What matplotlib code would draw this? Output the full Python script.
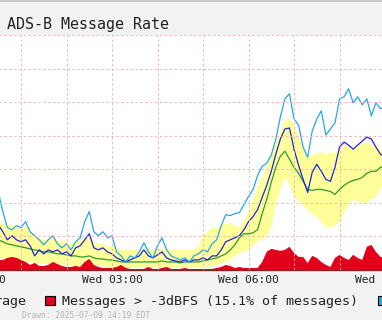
import numpy as np
import matplotlib
matplotlib.use('Agg')
import matplotlib.pyplot as plt
from matplotlib.patches import Rectangle

# sample times, minutes after Wed 00:00 (6 minute steps)
TIMES = np.arange(30, 541, 6)

# msgs/s
MAX_RATE = [234, 174, 126, 120, 132, 126, 144, 114, 102, 90,
            75, 90, 102, 78, 66, 78, 60, 84, 96, 144,
            174, 114, 102, 114, 96, 102, 54, 42, 24, 42,
            36, 54, 81, 54, 36, 72, 96, 60, 42, 36,
            30, 36, 24, 42, 48, 60, 54, 78, 90, 132,
            165, 162, 168, 171, 195, 219, 240, 282, 309, 318,
            342, 390, 456, 510, 525, 450, 432, 366, 336, 414,
            450, 474, 402, 420, 438, 510, 516, 540, 498, 516,
            492, 510, 459, 498, 480, 486]

RATE = [135, 114, 90, 102, 90, 84, 90, 72, 42, 60,
        48, 60, 54, 60, 48, 54, 42, 66, 72, 90,
        108, 66, 60, 66, 54, 48, 36, 30, 24, 30,
        36, 42, 60, 42, 36, 45, 54, 36, 30, 27,
        24, 30, 24, 30, 30, 36, 30, 42, 42, 60,
        84, 90, 96, 102, 120, 144, 159, 180, 216, 252,
        294, 345, 390, 420, 423, 360, 312, 270, 231, 291,
        315, 294, 270, 264, 306, 366, 381, 372, 360, 372,
        384, 396, 390, 366, 345, 336]

AVERAGE = [90, 84, 78, 75, 72, 69, 66, 63, 60, 57,
           54, 54, 51, 48, 48, 45, 42, 42, 39, 39,
           42, 36, 33, 33, 30, 30, 27, 24, 24, 24,
           24, 24, 24, 24, 24, 24, 27, 24, 24, 24,
           21, 24, 24, 24, 24, 27, 30, 33, 36, 42,
           48, 60, 75, 96, 108, 108, 111, 120, 168, 210,
           261, 306, 339, 354, 330, 306, 288, 264, 240, 237,
           240, 240, 237, 234, 225, 240, 252, 261, 267, 270,
           276, 288, 294, 294, 306, 309]

RANGE_HI = [144, 138, 132, 135, 126, 120, 132, 114, 102, 96,
            90, 90, 96, 90, 84, 84, 78, 84, 90, 96,
            96, 84, 78, 78, 72, 72, 66, 60, 60, 60,
            60, 60, 60, 60, 60, 60, 60, 60, 60, 60,
            60, 60, 60, 60, 72, 102, 114, 126, 126, 135,
            138, 138, 132, 126, 144, 174, 210, 246, 276, 306,
            345, 381, 414, 444, 450, 435, 396, 366, 342, 342,
            348, 351, 345, 348, 351, 360, 369, 372, 360, 366,
            378, 381, 372, 369, 360, 360]

RANGE_LO = [36, 36, 36, 30, 30, 24, 24, 24, 21, 18,
            18, 18, 18, 15, 15, 15, 12, 12, 12, 12,
            12, 12, 12, 12, 9, 9, 6, 6, 6, 6,
            6, 6, 6, 6, 6, 6, 6, 6, 6, 6,
            6, 6, 6, 6, 6, 6, 9, 12, 15, 18,
            24, 30, 42, 51, 54, 60, 72, 84, 90, 102,
            126, 195, 240, 276, 255, 219, 204, 192, 180, 168,
            156, 144, 126, 126, 132, 144, 174, 192, 210, 204,
            198, 201, 210, 216, 246, 252]

LOUD = [30, 30, 36, 39, 36, 30, 24, 15, 21, 12,
        12, 15, 24, 18, 12, 9, 9, 12, 9, 24,
        33, 15, 9, 6, 6, 6, 9, 15, 6, 3,
        3, 3, 3, 9, 3, 3, 6, 9, 3, 3,
        3, 6, 3, 3, 3, 3, 3, 3, 6, 9,
        15, 12, 6, 9, 6, 6, 6, 6, 24, 54,
        63, 60, 57, 60, 69, 51, 39, 39, 21, 42,
        36, 24, 15, 9, 36, 45, 36, 30, 45, 36,
        30, 69, 75, 54, 39, 36]

TICK_HOURS = [0, 3, 6, 9]
TICK_LABELS = ['Wed 00:00', 'Wed 03:00', 'Wed 06:00', 'Wed 09:00']

hours = TIMES / 60.0

W, H = 382, 320
fig = plt.figure(figsize=(W / 100, H / 100), dpi=100, facecolor='#f2f2f2')

# plot area runs past both edges of the picture (it was cropped)
ax = fig.add_axes([-30 / W, 50 / H, 442 / W, 235 / H])
ax.set_facecolor('white')

ax.fill_between(hours, RANGE_LO, RANGE_HI, color='#ffff99', lw=0, zorder=1)
ax.fill_between(hours, 0, LOUD, color='#e3001b', lw=0, zorder=1.2)
ax.plot(hours, AVERAGE, color='#2e9a2e', lw=0.9, zorder=2)
ax.plot(hours, RATE, color='#2222dd', lw=0.9, zorder=2)
ax.plot(hours, MAX_RATE, color='#27a6ee', lw=0.9, zorder=2)

ax.set_xlim(-0.1209, 9.593)
ax.set_ylim(0, 700)
ax.set_xticks(TICK_HOURS)
ax.set_xticklabels(TICK_LABELS, fontfamily='DejaVu Sans Mono', fontsize=8.1, color='#222222')
ax.set_xticks(np.arange(0, 10), minor=True)
ax.set_yticks(np.arange(0, 701, 100))
ax.set_yticklabels([])
ax.tick_params(axis='both', which='both', length=0, pad=3.3)

ax.set_axisbelow(False)
grid_kw = dict(color='#f4b4b4', lw=0.7, linestyle=(0, (2.5, 2.5)))
ax.grid(True, which='major', axis='both', **grid_kw)
ax.grid(True, which='minor', axis='x', **grid_kw)

for s in ['top', 'left', 'right']:
    ax.spines[s].set_visible(False)
ax.spines['bottom'].set_color('#7a2a2a')
ax.spines['bottom'].set_linewidth(1.0)
ax.spines['bottom'].set_zorder(3)

# top border strip
fig.add_artist(Rectangle((0, 1 - 2 / H), 1, 2 / H, transform=fig.transFigure,
                         color='#c8c8c8', lw=0))

mono = 'DejaVu Sans Mono'
fig.text(7 / W, 1 - 29 / H, 'ADS-B Message Rate', fontfamily=mono, fontsize=10.8,
         color='#222222', va='baseline', ha='left')

# legend row
fig.text(-29 / W, 1 - 305 / H, 'Average', fontfamily=mono, fontsize=9.6,
         color='#222222', va='baseline', ha='left')
fig.add_artist(Rectangle((45 / W, 1 - 305 / H), 10 / W, 9 / H, transform=fig.transFigure,
                         facecolor='#e3001b', edgecolor='black', lw=0.8))
fig.text(62 / W, 1 - 305 / H, 'Messages > -3dBFS (15.1% of messages)', fontfamily=mono,
         fontsize=9.6, color='#222222', va='baseline', ha='left')
fig.add_artist(Rectangle((378 / W, 1 - 305 / H), 10 / W, 9 / H, transform=fig.transFigure,
                         facecolor='#27a6ee', edgecolor='black', lw=0.8))

fig.text(22 / W, 1 - 318 / H, 'Drawn: 2025-07-09 14:19 EDT', fontfamily=mono, fontsize=5.7,
         color='#b4b4b4', va='baseline', ha='left')

fig.savefig('out.png', dpi=100, facecolor=fig.get_facecolor())
